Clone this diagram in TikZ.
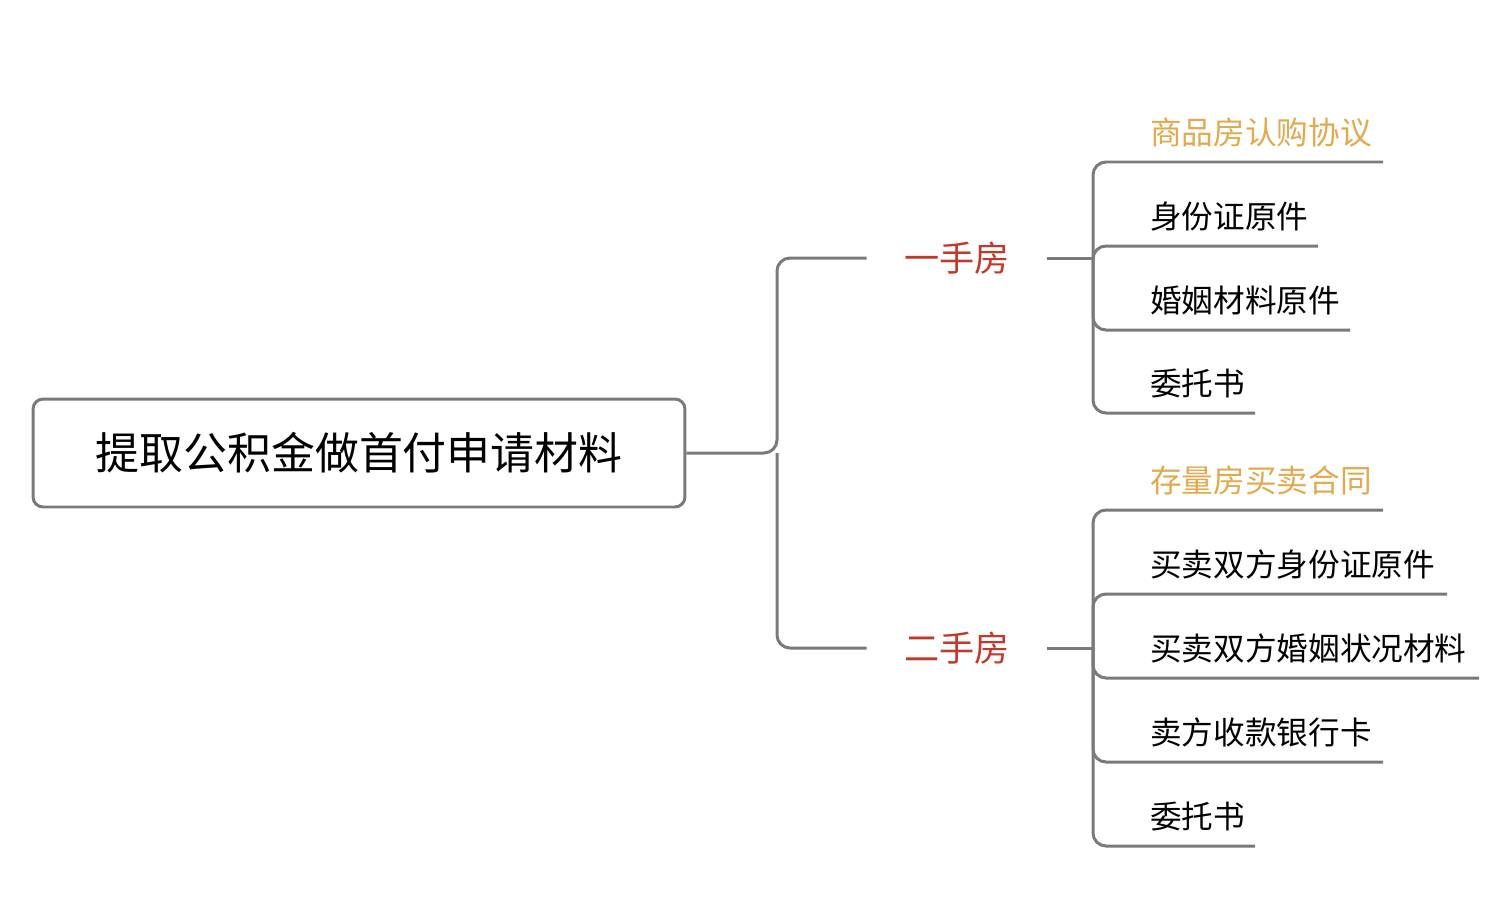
\documentclass[tikz,border=0pt]{standalone}
\usepackage{fontspec}
\setmainfont{Noto Sans CJK SC}
\definecolor{linegray}{HTML}{7A7A7A}
\definecolor{catred}{HTML}{C0392B}
\definecolor{tipgold}{HTML}{E3A94E}
\tikzset{
  branch/.style={draw=linegray, line width=1.7pt, rounded corners=0.26cm},
  rootbox/.style={draw=linegray, line width=1.7pt, rounded corners=0.2cm, minimum width=13.04cm, minimum height=2.16cm, font=\fontsize{25}{28}\selectfont},
  cat/.style={text=catred, minimum width=3.6cm, inner sep=0pt, font=\fontsize{20}{22}\selectfont},
  leaf/.style={anchor=base west, inner sep=0pt, font=\fontsize{18}{20}\selectfont},
  tip/.style={leaf, text=tipgold}
}
\begin{document}
\begin{tikzpicture}[x=0.02cm, y=-0.02cm]
  \useasboundingbox (0,0) rectangle (1500,900);

  \node[rootbox] (Root) at (359,453) {提取公积金做首付申请材料};
  \coordinate (Fork) at (777,453);

  \node[cat] (New) at (957,258) {一手房};
  \node[cat] (Used) at (957,648) {二手房};

  \draw[branch] (Root.east) -- (Fork) |- (New.west);
  \draw[branch] (Fork) |- (Used.west);

  % first-hand house
  \coordinate (HubNew) at (1093,258);
  \draw[branch] (New.east) -- (HubNew);
  \node[tip] (N1) at (1150,144) {商品房认购协议};
  \node[leaf] (N2) at (1150,228) {身份证原件};
  \node[leaf] (N3) at (1150,312) {婚姻材料原件};
  \node[leaf] (N4) at (1150,395) {委托书};
  \coordinate (N1e) at (1383,162);
  \coordinate (N2e) at (1318,246);
  \coordinate (N3e) at (1350,330);
  \coordinate (N4e) at (1255,413);
  \foreach \e in {N1e,N2e,N3e,N4e}
    \draw[branch] (HubNew) |- (\e);

  % second-hand house
  \coordinate (HubUsed) at (1093,648);
  \draw[branch] (Used.east) -- (HubUsed);
  \node[tip] (U1) at (1150,492) {存量房买卖合同};
  \node[leaf] (U2) at (1150,576) {买卖双方身份证原件};
  \node[leaf] (U3) at (1150,660) {买卖双方婚姻状况材料};
  \node[leaf] (U4) at (1150,744) {卖方收款银行卡};
  \node[leaf] (U5) at (1150,828) {委托书};
  \coordinate (U1e) at (1383,510);
  \coordinate (U2e) at (1447,594);
  \coordinate (U3e) at (1479,678);
  \coordinate (U4e) at (1383,762);
  \coordinate (U5e) at (1255,846);
  \foreach \e in {U1e,U2e,U3e,U4e,U5e}
    \draw[branch] (HubUsed) |- (\e);
\end{tikzpicture}
\end{document}
